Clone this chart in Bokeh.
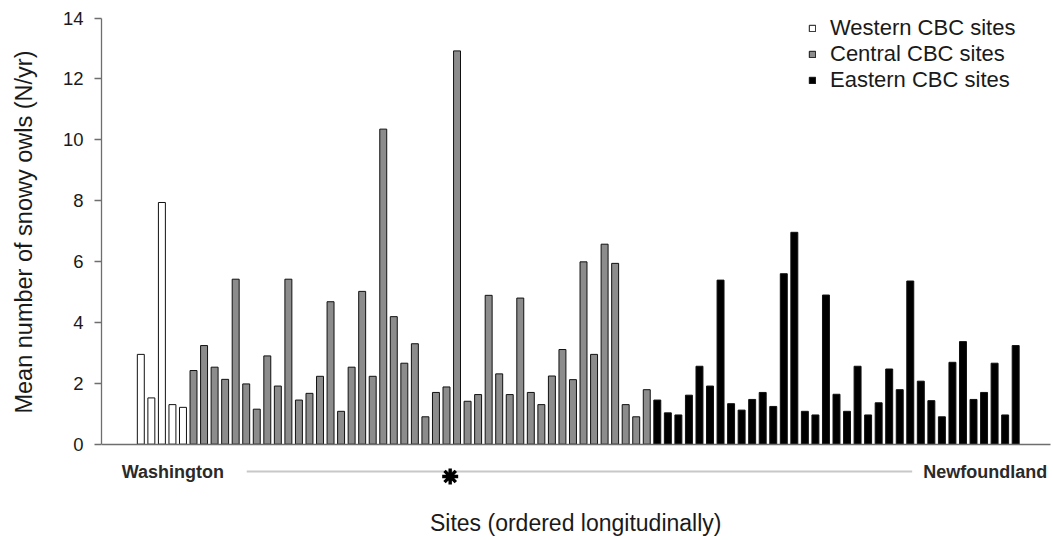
import numpy as np
from bokeh.plotting import figure
from bokeh.models import (ColumnDataSource, Range1d, LinearAxis, FixedTicker,
                          Label)
from bokeh.embed import file_html
from bokeh.resources import INLINE

# Mean number of snowy owls per year at each CBC site, ordered west to east
western = [2.95, 1.52, 7.94, 1.30, 1.21]
central = [2.42, 3.24, 2.53, 2.13, 5.42, 1.98, 1.15, 2.90, 1.91, 5.42,
           1.45, 1.67, 2.23, 4.68, 1.08, 2.53, 5.02, 2.23, 10.35, 4.19,
           2.66, 3.30, 0.90, 1.70, 1.88, 12.92, 1.41, 1.63, 4.89, 2.31,
           1.63, 4.80, 1.70, 1.30, 2.24, 3.11, 2.12, 5.99, 2.95, 6.57,
           5.94, 1.30, 0.90, 1.79]
eastern = [1.45, 1.03, 0.96, 1.61, 2.56, 1.91, 5.39, 1.33, 1.12, 1.47,
           1.70, 1.24, 5.60, 6.96, 1.08, 0.96, 4.90, 1.64, 1.08, 2.56,
           0.96, 1.36, 2.47, 1.79, 5.36, 2.07, 1.43, 0.90, 2.69, 3.37,
           1.47, 1.70, 2.66, 0.96, 3.24]

group_names = ["Western CBC sites", "Central CBC sites", "Eastern CBC sites"]
group_fills = ["#ffffff", "#8c8c8c", "#000000"]
y_ticks = [0, 2, 4, 6, 8, 10, 12, 14]

FONT = "Liberation Sans"
AXIS_GREY = "#6e6e6e"
TEXT = "#1a1a1a"

p = figure(width=1053, height=540,
           x_range=Range1d(-3.73, 86.588), y_range=Range1d(-3.164, 14.313),
           x_axis_type=None, y_axis_type=None,
           toolbar_location=None, output_backend="svg",
           min_border_left=101, min_border_right=0,
           min_border_top=8, min_border_bottom=0,
           outline_line_color=None)

# bars, one renderer per region so each gets its own legend entry
start = 0
for name, vals, fill in zip(group_names, [western, central, eastern], group_fills):
    idx = np.arange(start, start + len(vals))
    src = ColumnDataSource(dict(x=idx, top=vals))
    p.vbar(x="x", top="top", bottom=0, width=0.66, source=src,
           fill_color=fill, line_color="#111111", line_width=1,
           legend_label=name)
    start += len(vals)

# y axis limited to 0..14; the title is padded at its start so that it
# sits centred on the 0..14 span rather than on the whole frame
y_title = "\u00a0" * 13 + "Mean number of snowy owls (N/yr)"
yaxis = LinearAxis(bounds=(0, 14), ticker=FixedTicker(ticks=y_ticks),
                   axis_label=y_title)
yaxis.axis_line_color = AXIS_GREY
yaxis.axis_line_width = 1.3
yaxis.major_tick_line_color = AXIS_GREY
yaxis.major_tick_line_width = 1.3
yaxis.major_tick_out = 7
yaxis.major_tick_in = 0
yaxis.minor_tick_out = 0
yaxis.minor_tick_in = 0
yaxis.major_label_standoff = 11
yaxis.major_label_text_font = FONT
yaxis.major_label_text_font_size = "18.5px"
yaxis.major_label_text_color = TEXT
yaxis.axis_label_standoff = 23
yaxis.axis_label_text_font = FONT
yaxis.axis_label_text_font_size = "23.5px"
yaxis.axis_label_text_font_style = "normal"
yaxis.axis_label_text_color = TEXT
p.add_layout(yaxis, "left")

# baseline along y = 0
xaxis = LinearAxis(fixed_location=0, bounds=(-3.73, 86.30),
                   ticker=FixedTicker(ticks=[]))
xaxis.axis_line_color = AXIS_GREY
xaxis.axis_line_width = 1.3
xaxis.major_tick_out = 0
xaxis.major_tick_in = 0
xaxis.minor_tick_out = 0
xaxis.minor_tick_in = 0
xaxis.major_label_standoff = 0
p.add_layout(xaxis, "below")

# west-to-east guide under the bars
p.segment(x0=[10.05], y0=[-0.897], x1=[73.18], y1=[-0.897],
          line_color="#c8c8c8", line_width=2)
p.scatter(x=[29.35], y=[-1.061], marker="asterisk", size=16,
          line_color="#000000", line_width=3.4)

for txt, xc in [("Washington", 3.04), ("Newfoundland", 80.12)]:
    p.add_layout(Label(x=xc, y=-0.93, text=txt, text_align="center",
                       text_baseline="middle", text_font=FONT,
                       text_font_size="18px", text_font_style="bold",
                       text_color="#2a2a2a"))

p.add_layout(Label(x=41.26, y=-2.58, text="Sites (ordered longitudinally)",
                   text_align="center", text_baseline="middle",
                   text_font=FONT, text_font_size="23px", text_color=TEXT))

leg = p.legend[0]
leg.location = (707, 447)
leg.orientation = "vertical"
leg.border_line_color = None
leg.background_fill_alpha = 0
leg.padding = 0
leg.margin = 0
leg.spacing = 0
leg.glyph_width = 8
leg.glyph_height = 8
leg.label_height = 25
leg.label_standoff = 14
leg.label_text_font = FONT
leg.label_text_font_size = "22px"
leg.label_text_color = TEXT

with open("out.html", "w") as f:
    f.write(file_html(p, INLINE))
